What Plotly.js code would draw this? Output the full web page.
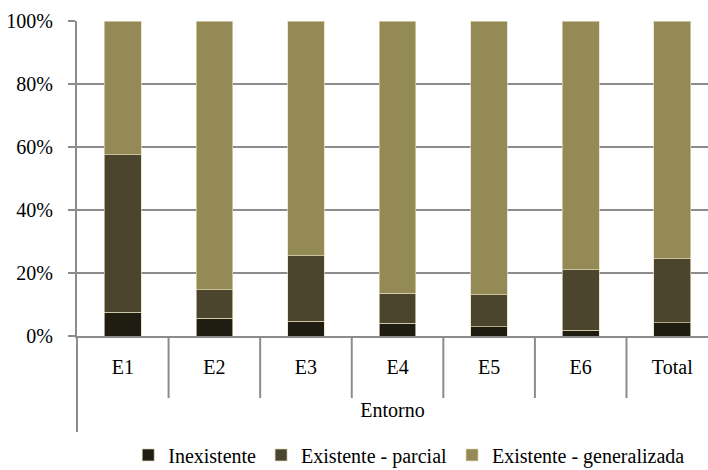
<!DOCTYPE html>
<html>
<head>
<meta charset="utf-8">
<script src="https://cdn.plot.ly/plotly-3.0.1.min.js"></script>
<style>
  html, body { margin: 0; padding: 0; background: #ffffff; }
  #chart { width: 708px; height: 470px; }
</style>
</head>
<body>
<div id="chart"></div>
<script>
// Categories (environments) and the share of each level, in percent
const categories = ["E1", "E2", "E3", "E4", "E5", "E6", "Total"];
const seriesNames = ["Inexistente", "Existente - parcial", "Existente - generalizada"];
const inexistente = [7.5, 5.6, 4.7, 4.1, 3.0, 1.9, 4.2];
const parcial = [50.0, 9.1, 20.8, 9.4, 10.1, 19.1, 20.3];
const generalizada = [42.5, 85.3, 74.5, 86.5, 86.9, 79.0, 75.5];
const yTickValues = [0, 20, 40, 60, 80, 100];
const yTickLabels = ["0%", "20%", "40%", "60%", "80%", "100%"];
const xAxisTitle = "Entorno";

const colors = ["#1f1d12", "#4a452c", "#948a55"];
const seriesValues = [inexistente, parcial, generalizada];
const serif = "'Liberation Serif', 'DejaVu Serif', serif";
const gridGray = "#8c8c8c";

const traces = seriesValues.map((vals, i) => ({
  type: "bar",
  name: seriesNames[i],
  x: categories,
  y: vals,
  marker: {
    color: colors[i],
    line: { color: "rgba(225,220,185,0.85)", width: 0.8 }
  },
  hoverinfo: "x+y+name"
}));

// Separators between categories, hanging below the baseline
const shapes = [];
for (let i = 0; i < categories.length - 1; i++) {
  shapes.push({
    type: "line", xref: "x", yref: "paper",
    x0: i + 0.5, x1: i + 0.5, y0: 0, y1: -0.197,
    line: { color: gridGray, width: 2 }
  });
}
// Left axis line continues down past the category labels
shapes.push({
  type: "line", xref: "paper", yref: "paper",
  x0: 0, x1: 0, y0: 0, y1: -0.305,
  line: { color: gridGray, width: 2 }
});

const layout = {
  width: 708,
  height: 470,
  margin: { l: 77, r: 0, t: 21, b: 134 },
  paper_bgcolor: "#ffffff",
  plot_bgcolor: "#ffffff",
  barmode: "stack",
  bargap: 0.6,
  showlegend: true,
  font: { family: serif, size: 20, color: "#000000" },
  xaxis: {
    type: "category",
    range: [-0.5, 6.39],
    showgrid: false,
    showline: true,
    linecolor: gridGray,
    linewidth: 2,
    ticks: "",
    ticklabelstandoff: 12,
    tickfont: { family: serif, size: 20, color: "#000000" },
    title: { text: xAxisTitle, font: { family: serif, size: 20, color: "#000000" }, standoff: 26 },
    fixedrange: true
  },
  yaxis: {
    range: [0, 100],
    tickvals: yTickValues,
    ticktext: yTickLabels,
    showgrid: true,
    gridcolor: gridGray,
    gridwidth: 2,
    showline: true,
    linecolor: gridGray,
    linewidth: 2,
    ticks: "outside",
    ticklen: 7,
    tickwidth: 2,
    tickcolor: gridGray,
    ticklabelstandoff: 11,
    tickfont: { family: serif, size: 20, color: "#000000" },
    zeroline: false,
    fixedrange: true
  },
  legend: {
    orientation: "h",
    x: 0.578,
    xref: "container",
    xanchor: "center",
    y: 0.032,
    yref: "container",
    yanchor: "middle",
    font: { family: serif, size: 20, color: "#000000" },
    itemwidth: 30,
    traceorder: "normal",
    bgcolor: "rgba(0,0,0,0)"
  },
  shapes: shapes
};

Plotly.newPlot("chart", traces, layout, { displayModeBar: false, staticPlot: true });
</script>
</body>
</html>
